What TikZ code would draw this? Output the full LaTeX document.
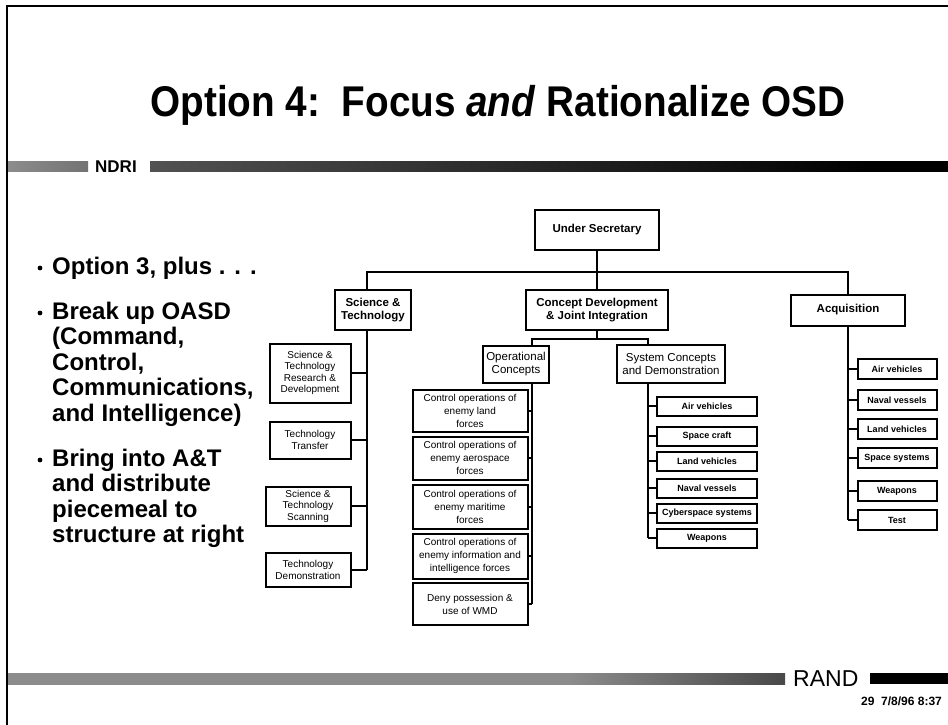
\documentclass[tikz,border=0pt]{standalone}
\usepackage{fontspec}
\setmainfont{Liberation Sans}
\newfontfamily\slidefont[FakeStretch=0.9]{Liberation Sans}
\usepackage{tikz}
\usetikzlibrary{calc}
\newcommand\fsz[2]{\fontsize{#1}{#2}\selectfont}
\pgfdeclarehorizontalshading{ndribar}{100bp}{color(0bp)=(black!50); color(70bp)=(black); color(100bp)=(black)}
\pgfdeclarehorizontalshading{randbar}{100bp}{color(0bp)=(black!45); color(61bp)=(black!45); color(90bp)=(black); color(100bp)=(black)}
\pgfdeclarehorizontalshading{leftbar}{100bp}{color(0bp)=(black!40); color(100bp)=(black!60)}
\tikzset{
 org/.style 2 args={draw, line width=2pt, minimum width=#1, minimum height=#2, inner sep=1pt, align=center},
 wire/.style={line width=1.8pt},
 topbox/.style={font=\bfseries\fsz{11.5}{13}},
 midbox/.style={font=\fsz{11.5}{13}},
 leaf/.style={font=\fsz{10}{11.5}},
 opleaf/.style={font=\fsz{10}{13}},
 leafb/.style={font=\bfseries\fsz{9}{11}},
 bullettext/.style={anchor=north west, align=left, inner sep=0pt, font=\bfseries\fsz{24}{25.5}},
 plain/.style={anchor=base west, inner sep=0pt}
}

\begin{document}
\begin{tikzpicture}[x=1pt,y=-1pt]
\useasboundingbox (0,0) rectangle (948,725);
\draw[line width=2.5pt] (7,725) -- (7,6) -- (948,6);
\node[font=\slidefont\bfseries\fsz{43}{48}, anchor=base, inner sep=0pt] (title) at (498,116) {Option 4:\ \ Focus \textit{and} Rationalize OSD};

\shade[shading=leftbar] (8,171) rectangle (88,161);
\node[plain, font=\bfseries\fsz{17}{20}] (ndri) at (95,172) {NDRI};
\shade[shading=ndribar] (150,171) rectangle (948,161);

\fill (40,268) circle (2.4); \fill (40,313) circle (2.4); \fill (40,460) circle (2.4);
\node[plain, font=\bfseries\fsz{24}{25.5}] (itemA) at (52,274) {Option 3, plus . . .};
\node[bullettext] (itemB) at (52,301.5) {Break up OASD\\(Command,\\Control,\\Communications,\\and Intelligence)};
\node[bullettext] (itemC) at (52,448.5) {Bring into A\&T\\and distribute\\piecemeal to\\structure at right};

\node[org={124}{40},topbox] (us) at (597,230) {Under Secretary};
\node[org={76}{40},topbox] (st) at (373,310) {Science \&\\Technology};
\node[org={142}{40},topbox] (cd) at (597,310) {Concept Development\\\& Joint Integration};
\node[org={114}{31},topbox] (acq) at (848,310) {Acquisition};
\node[org={66}{37},midbox] (oc) at (516,364) {Operational\\Concepts};
\node[org={108}{38},midbox] (sc) at (671,364) {System Concepts\\and Demonstration};

\node[org={81}{59},leaf] (stA) at (310,373) {Science \&\\Technology\\Research \&\\Development};
\node[org={81}{37},leaf] (stB) at (310,440) {Technology\\Transfer};
\node[org={85}{39},leaf] (stC) at (308,506) {Science \&\\Technology\\Scanning};
\node[org={85}{34},leaf] (stD) at (308,570) {Technology\\Demonstration};

\node[org={115}{42},opleaf] (ocA) at (470,411) {Control operations of\\enemy land\\forces};
\node[org={115}{43},opleaf] (ocB) at (470,458) {Control operations of\\enemy aerospace\\forces};
\node[org={115}{44},opleaf] (ocC) at (470,507) {Control operations of\\enemy maritime\\forces};
\node[org={115}{45},opleaf] (ocD) at (470,556) {Control operations of\\enemy information and\\intelligence forces};
\node[org={115}{42},opleaf] (ocE) at (470,604) {Deny possession \&\\use of WMD};

\node[org={100}{19},leafb] (scA) at (707,406) {Air vehicles};
\node[org={100}{19},leafb] (scB) at (707,436) {Space craft};
\node[org={100}{19},leafb] (scC) at (707,461) {Land vehicles};
\node[org={100}{19},leafb] (scD) at (707,488) {Naval vessels};
\node[org={100}{19},leafb] (scE) at (707,513) {Cyberspace systems};
\node[org={100}{19},leafb] (scF) at (707,538) {Weapons};

\node[org={79}{20},leafb] (acqA) at (897,369) {Air vehicles};
\node[org={79}{20},leafb] (acqB) at (897,400) {Naval vessels};
\node[org={79}{20},leafb] (acqC) at (897,429) {Land vehicles};
\node[org={79}{20},leafb] (acqD) at (897,458) {Space systems};
\node[org={79}{20},leafb] (acqE) at (897,491) {Weapons};
\node[org={79}{20},leafb] (acqF) at (897,520) {Test};

\coordinate (bus) at (597,272); \coordinate (cdbus) at (597,339);
\coordinate (stx) at (367,0); \coordinate (ocx) at (532,0); \coordinate (scx) at (648,0);

\draw[wire] (us) -- (cd); \draw[wire] (cd) -- (cdbus);
\draw[wire] (stx |- st.north) -- (stx |- bus) -- (acq.north |- bus) -- (acq.north);
\draw[wire] (ocx |- oc.north) -- (ocx |- cdbus) -- (scx |- cdbus) -- (scx |- sc.north);

\draw[wire] (stx |- st.south) -- (stx |- stD.east);
\draw[wire] (stA.east) -- (stA.east -| stx); \draw[wire] (stB.east) -- (stB.east -| stx);
\draw[wire] (stC.east) -- (stC.east -| stx); \draw[wire] (stD.east) -- (stD.east -| stx);

\draw[wire] (ocx |- oc.south) -- (ocx |- ocE.east);
\draw[wire] (ocA.east) -- (ocA.east -| ocx); \draw[wire] (ocB.east) -- (ocB.east -| ocx); \draw[wire] (ocC.east) -- (ocC.east -| ocx);
\draw[wire] (ocD.east) -- (ocD.east -| ocx); \draw[wire] (ocE.east) -- (ocE.east -| ocx);

\draw[wire] (scx |- sc.south) -- (scx |- scF.west);
\draw[wire] (scA.west) -- (scA.west -| scx); \draw[wire] (scB.west) -- (scB.west -| scx); \draw[wire] (scC.west) -- (scC.west -| scx);
\draw[wire] (scD.west) -- (scD.west -| scx); \draw[wire] (scE.west) -- (scE.west -| scx); \draw[wire] (scF.west) -- (scF.west -| scx);

\draw[wire] (acq.south) -- (acq.south |- acqF.west);
\draw[wire] (acqA.west) -- (acqA.west -| acq.south); \draw[wire] (acqB.west) -- (acqB.west -| acq.south); \draw[wire] (acqC.west) -- (acqC.west -| acq.south);
\draw[wire] (acqD.west) -- (acqD.west -| acq.south); \draw[wire] (acqE.west) -- (acqE.west -| acq.south); \draw[wire] (acqF.west) -- (acqF.west -| acq.south);

\shade[shading=randbar] (8,684) rectangle (785,673);
\node[plain, font=\fsz{23}{26}] (rand) at (793,686) {RAND};
\fill (870,684) rectangle (948,673);
\node[plain, font=\bfseries\fsz{12}{14}] (stamp) at (861,705) {29\ \ 7/8/96 8:37};
\end{tikzpicture}
\end{document}
